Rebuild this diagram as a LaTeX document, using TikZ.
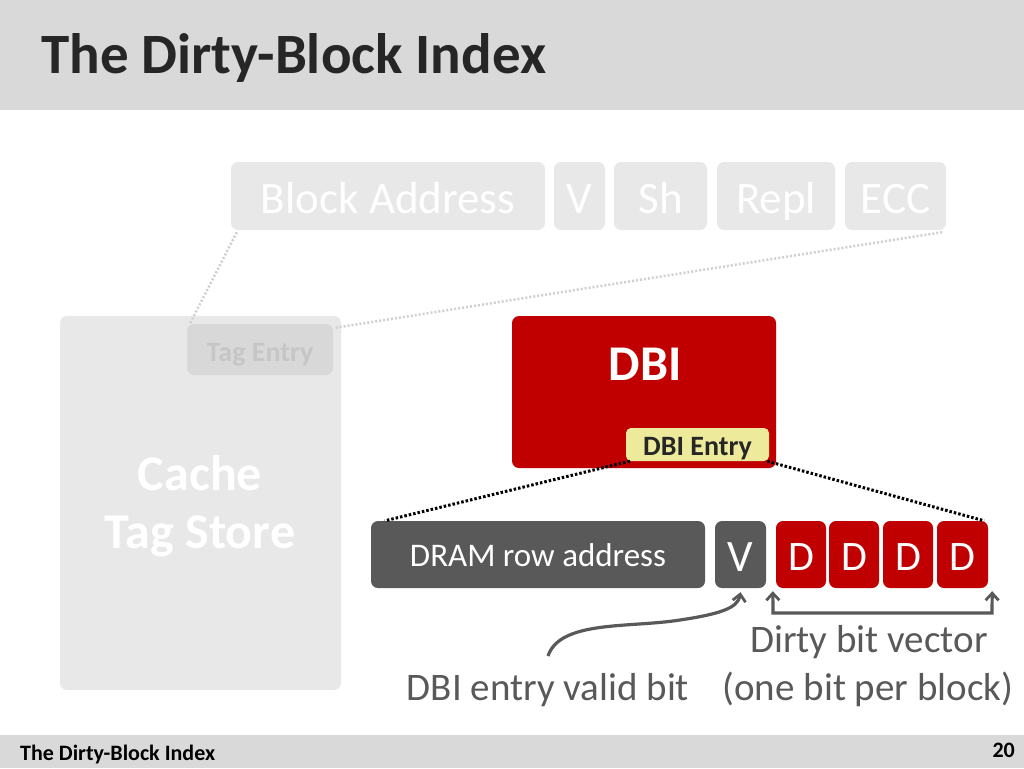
\documentclass[tikz,border=0pt]{standalone}
\usepackage{fontspec}
\setmainfont{Carlito}
\usetikzlibrary{arrows.meta,calc}
\definecolor{hdr}{HTML}{D9D9D9}
\definecolor{titlec}{HTML}{262626}
\definecolor{faded}{HTML}{E8E8E8}
\definecolor{tagfill}{HTML}{D8D8D8}
\definecolor{tagtext}{HTML}{C6C6C6}
\definecolor{dbired}{HTML}{C00000}
\definecolor{entryfill}{HTML}{EDEA9C}
\definecolor{darkg}{HTML}{595959}
\definecolor{dotg}{HTML}{D0D0D0}
\tikzset{
  box/.style={rounded corners=7pt, inner sep=0pt, anchor=center},
  fadedbox/.style={box, fill=faded, text=white},
  darkbox/.style={box, fill=darkg, text=white},
  redbox/.style={box, fill=dbired, text=white},
  txt/.style={inner sep=0pt, anchor=base},
  graydots/.style={draw=dotg, line width=2.5pt, dash pattern=on 2pt off 2pt},
  blackdots/.style={draw=black, line width=3pt, dash pattern=on 2.5pt off 2pt},
  barb/.tip={Straight Barb[length=7pt,width=13pt,line width=2.8pt]},
  conn/.style={draw=darkg, line width=3.2pt},
  lbl/.style={txt, text=darkg, font=\fontsize{39}{44}\selectfont},
}
\newcommand{\bx}[6]{% style, name, x1, y1, x2, y2
  \node[#1, minimum width={(#5-#3)*1pt}, minimum height={(#6-#4)*1pt}] (#2) at ({(#3+#5)/2},{(#4+#6)/2}) {};}
\begin{document}
\begin{tikzpicture}[x=1pt,y=-1pt]
\useasboundingbox (0,0) rectangle (1024,768);
\fill[white] (0,0) rectangle (1024,768);
% header and footer
\fill[hdr] (0,0) rectangle (1024,110);
\node[txt, anchor=base west, text=titlec, font=\fontsize{57}{62}\selectfont\bfseries] (title) at (41,73) {The Dirty-Block Index};
\fill[hdr] (0,735) rectangle (1024,768);
\node[txt, anchor=base west, text=black, font=\fontsize{22}{26}\selectfont\bfseries] (foot) at (20,760) {The Dirty-Block Index};
\node[txt, anchor=base east, text=black, font=\fontsize{22}{26}\selectfont\bfseries] (page) at (1015,757) {20};
% top faded row
\bx{fadedbox}{ba}{231}{162}{545}{230}
\bx{fadedbox}{tv}{554}{162}{605}{230}
\bx{fadedbox}{sh}{614}{162}{707}{230}
\bx{fadedbox}{repl}{717}{162}{835}{230}
\bx{fadedbox}{ecc}{845}{162}{946}{230}
\begin{scope}[every node/.style={txt, text=white, font=\fontsize{45}{50}\selectfont}]
\node at (ba.center |- 0,213) {Block Address};
\node at (tv.center |- 0,213) {V};
\node at (sh.center |- 0,213) {Sh};
\node at (repl.center |- 0,213) {Repl};
\node at (ecc.center |- 0,213) {ECC};
\end{scope}
% cache tag store
\bx{fadedbox}{cts}{60}{316}{341}{690}
\node[txt, text=white, font=\fontsize{50}{55}\selectfont\bfseries] (ctsa) at (200,490) {Cache};
\node[txt, text=white, font=\fontsize{50}{55}\selectfont\bfseries] (ctsb) at (200,548) {Tag Store};
\bx{box, fill=tagfill}{tag}{187}{324}{333}{375}
\node[txt, text=tagtext, font=\fontsize{28}{32}\selectfont\bfseries] at (tag.center |- 0,361) {Tag Entry};
\path[graydots] ($(ba.south west)+(6,2)$) -- ($(tag.north west)+(3,0)$);
\path[graydots] ($(ecc.south east)+(-4,2)$) -- ($(tag.north east)+(2,4)$);
% DBI
\bx{redbox}{dbi}{512}{316}{776}{468}
\node[txt, text=white, font=\fontsize{50}{55}\selectfont\bfseries] at (645,380) {DBI};
\bx{box, rounded corners=5pt, fill=entryfill}{entry}{626}{428}{769}{461}
\node[txt, text=titlec, font=\fontsize{28}{32}\selectfont\bfseries] at (entry.center |- 0,455) {DBI Entry};
% DBI entry fields
\bx{darkbox}{dram}{371}{521}{705}{588}
\node[txt, text=white, font=\fontsize{33}{38}\selectfont] at (dram.center |- 0,566) {DRAM row address};
\bx{darkbox}{v}{715}{521}{766}{588}
\bx{redbox}{d1}{776}{521}{826}{588}
\bx{redbox}{d2}{829}{521}{879}{588}
\bx{redbox}{d3}{883}{521}{933}{588}
\bx{redbox}{d4}{937}{521}{988}{588}
\node[txt, text=white, font=\fontsize{45}{50}\selectfont] at (v.center |- 0,571) {V};
\begin{scope}[every node/.style={txt, text=white, font=\fontsize{42}{46}\selectfont}]
\node at (d1.center |- 0,570) {D};
\node at (d2.center |- 0,570) {D};
\node at (d3.center |- 0,570) {D};
\node at (d4.center |- 0,570) {D};
\end{scope}
\path[blackdots] ($(entry.south west)+(4,0)$) -- ($(dram.north west)+(14,0)$);
\path[blackdots] ($(entry.south east)+(-2,0)$) -- ($(d4.north east)+(-4,0)$);
% labels
\node[lbl] (validlbl) at (548,700) {DBI entry valid bit};
\node[lbl] (dbv) at (869,652) {Dirty bit vector};
\node[lbl] (obpb) at (868,700) {(one bit per block)};
% arrows
\coordinate (vstart) at (548,656);
\draw[conn, -barb] (vstart) .. controls (560,620) and (630,628) .. (680,620) .. controls (720,614) and (738,608) .. ($(v.south)+(0,4)$);
\coordinate (bl) at (773,613);
\coordinate (br) at (992,613);
\draw[conn, barb-barb] ($(d1.south west)+(-3,3)$) -- (bl) -- (br) -- ($(d4.south east)+(4,3)$);
\end{tikzpicture}
\end{document}
